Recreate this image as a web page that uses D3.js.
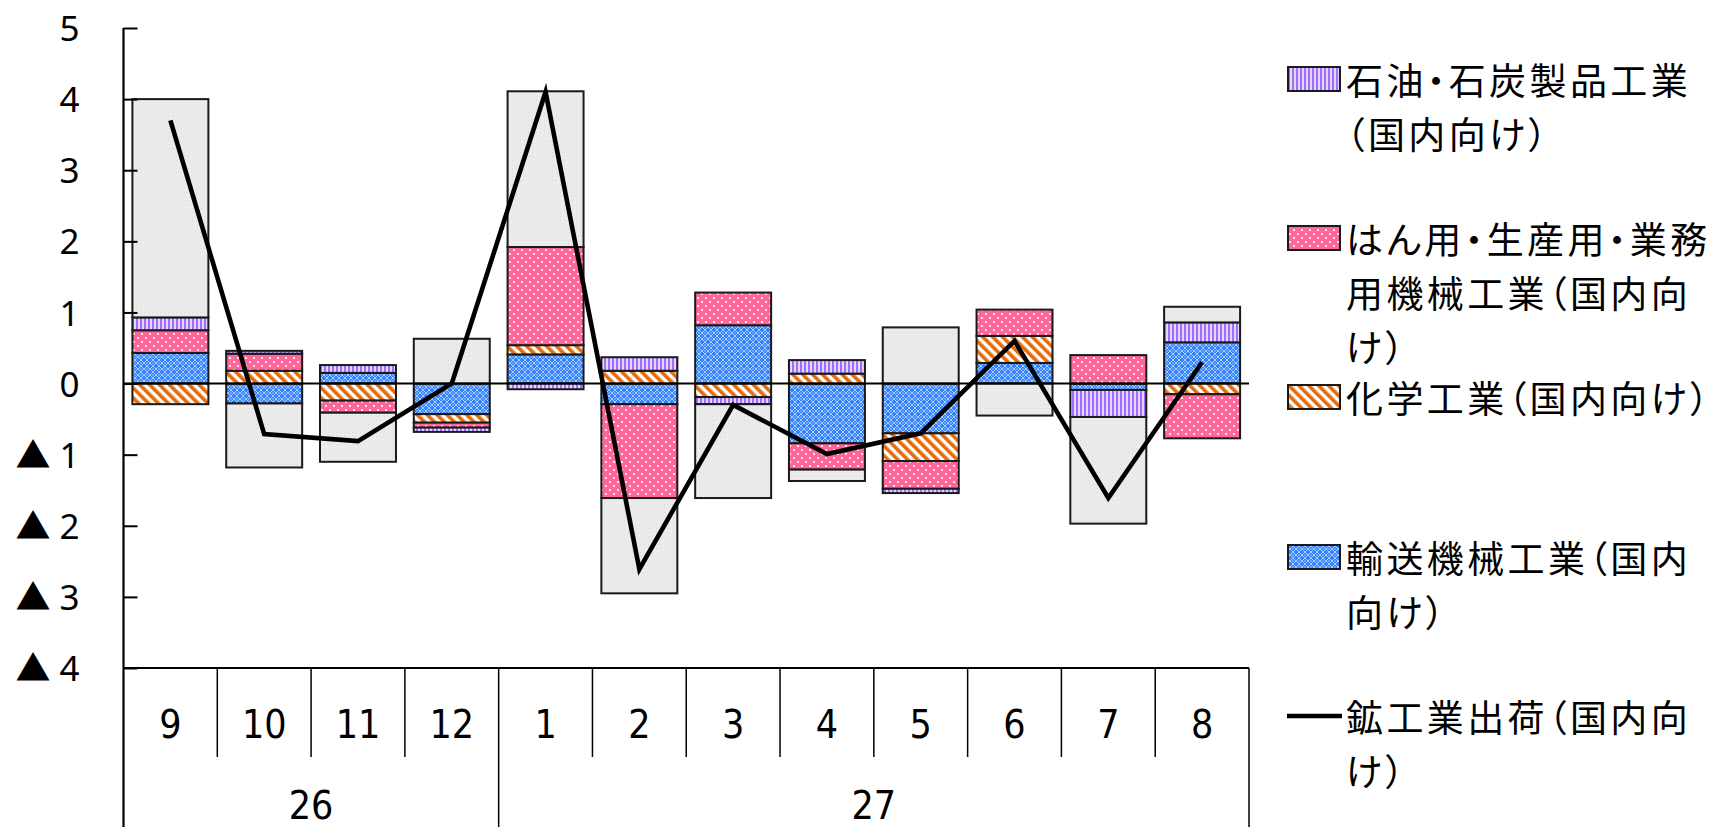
<!DOCTYPE html>
<html>
<head>
<meta charset="utf-8">
<script src="https://cdn.jsdelivr.net/npm/d3@7"></script>
<style>
  html, body { margin: 0; padding: 0; background: #ffffff; }
  svg { display: block; }
</style>
</head>
<body>
<svg id="chart" width="1729" height="827"></svg>
<script>
// Month labels and the year groups below them
const months = ["9", "10", "11", "12", "1", "2", "3", "4", "5", "6", "7", "8"];
const yearLabels = ["26", "27"];
const yearSpans = [4, 8];

// Contributions by industry (percentage points)
const transport = [0.43, -0.28, 0.15, -0.43, 0.41, -0.29, 0.82, -0.84, -0.70, 0.29, -0.09, 0.58];
const chemical  = [-0.29, 0.18, -0.24, -0.12, 0.13, 0.18, -0.19, 0.14, -0.39, 0.38, 0.00, -0.15];
const machinery = [0.32, 0.24, -0.17, -0.07, 1.38, -1.32, 0.46, -0.37, -0.39, 0.37, 0.40, -0.62];
const petroleum = [0.18, 0.04, 0.11, -0.06, -0.08, 0.19, -0.10, 0.19, -0.06, 0.00, -0.38, 0.28];
const other     = [3.07, -0.90, -0.69, 0.63, 2.19, -1.34, -1.32, -0.16, 0.79, -0.45, -1.50, 0.22];

// Total domestic shipments (% change)
const shipments = [3.7, -0.71, -0.81, 0.0, 4.1, -2.61, -0.30, -0.99, -0.70, 0.60, -1.61, 0.30];

// Y axis ticks
const yTicks = [-4, -3, -2, -1, 0, 1, 2, 3, 4, 5];

// Legend text, already broken into lines
const legendPetroleum = ["石油・石炭製品工業", "（国内向け）"];
const legendMachinery = ["はん用・生産用・業務", "用機械工業（国内向", "け）"];
const legendChemical  = ["化学工業（国内向け）"];
const legendTransport = ["輸送機械工業（国内", "向け）"];
const legendShipments = ["鉱工業出荷（国内向", "け）"];

const svg = d3.select("#chart");
const defs = svg.append("defs");

// ---- fill patterns ----
const pPet = defs.append("pattern").attr("id", "pat-petroleum")
  .attr("patternUnits", "userSpaceOnUse").attr("width", 4).attr("height", 4);
pPet.append("rect").attr("width", 4).attr("height", 4).attr("fill", "#E4D6FF");
pPet.append("rect").attr("width", 2).attr("height", 4).attr("fill", "#9F6EFF");

const pMach = defs.append("pattern").attr("id", "pat-machinery")
  .attr("patternUnits", "userSpaceOnUse").attr("width", 8).attr("height", 8);
pMach.append("rect").attr("width", 8).attr("height", 8).attr("fill", "#FF6699");
pMach.append("rect").attr("x", 1).attr("y", 1).attr("width", 2).attr("height", 2).attr("fill", "#FFE3EC");
pMach.append("rect").attr("x", 5).attr("y", 5).attr("width", 2).attr("height", 2).attr("fill", "#FFE3EC");

const pChem = defs.append("pattern").attr("id", "pat-chemical")
  .attr("patternUnits", "userSpaceOnUse").attr("width", 7).attr("height", 7)
  .attr("patternTransform", "rotate(-45)");
pChem.append("rect").attr("width", 7).attr("height", 7).attr("fill", "#ffffff");
pChem.append("rect").attr("width", 3.6).attr("height", 7).attr("fill", "#E46C0A");

const pTrans = defs.append("pattern").attr("id", "pat-transport")
  .attr("patternUnits", "userSpaceOnUse").attr("width", 6).attr("height", 6);
pTrans.append("rect").attr("width", 6).attr("height", 6).attr("fill", "#3383FF");
pTrans.append("path").attr("d", "M3 0 L6 3 L3 6 L0 3 Z")
  .attr("fill", "none").attr("stroke", "#B9D5FF").attr("stroke-width", 0.9);
pTrans.append("rect").attr("x", 2.5).attr("y", 2.5).attr("width", 1).attr("height", 1).attr("fill", "#ffffff");

const pOther = defs.append("pattern").attr("id", "pat-other")
  .attr("patternUnits", "userSpaceOnUse").attr("width", 4).attr("height", 4);
pOther.append("rect").attr("width", 4).attr("height", 4).attr("fill", "#EBEBEB");
pOther.append("rect").attr("width", 1).attr("height", 1).attr("fill", "#DCDCDC");

// ---- scales ----
const plotLeft = 123.5, plotRight = 1249, plotTop = 28, plotBottom = 668;
const x = d3.scaleBand().domain(d3.range(months.length)).range([plotLeft, plotRight]).padding(0);
const y = d3.scaleLinear().domain([-4, 5]).range([plotBottom, plotTop]);
const bw = x.bandwidth();
const barW = bw * 0.81;

// ---- stacked contributions ----
const keys = ["transport", "chemical", "machinery", "petroleum", "other"];
const seriesData = { transport, chemical, machinery, petroleum, other };
const rows = months.map((m, i) => {
  const r = { i };
  keys.forEach(k => r[k] = seriesData[k][i]);
  return r;
});
const stacked = d3.stack().keys(keys).offset(d3.stackOffsetDiverging)(rows);

const barLayer = svg.append("g");
stacked.forEach(s => {
  barLayer.append("g")
    .selectAll("rect")
    .data(s.filter(d => Math.abs(d[1] - d[0]) > 1e-9))
    .join("rect")
    .attr("x", d => x(d.data.i) + (bw - barW) / 2)
    .attr("width", barW)
    .attr("y", d => y(Math.max(d[0], d[1])))
    .attr("height", d => Math.abs(y(d[0]) - y(d[1])))
    .attr("fill", `url(#pat-${s.key})`)
    .attr("stroke", "#1a1a1a")
    .attr("stroke-width", 2);
});

// zero line
svg.append("line")
  .attr("x1", plotLeft).attr("x2", plotRight)
  .attr("y1", y(0)).attr("y2", y(0))
  .attr("stroke", "#000").attr("stroke-width", 2);

// ---- y axis ----
const yAxis = d3.axisLeft(y)
  .tickValues(yTicks)
  .tickSize(-14)
  .tickPadding(44)
  .tickFormat(v => v < 0 ? "▲ " + (-v) : String(v));
const gy = svg.append("g").attr("transform", `translate(${plotLeft},0)`).call(yAxis);
gy.select(".domain").remove();
gy.selectAll(".tick line").attr("stroke", "#000").attr("stroke-width", 2);
gy.selectAll(".tick text")
  .attr("fill", "#000")
  .attr("dy", "0.36em")
  .style("font-family", "'Noto Sans', 'Noto Sans CJK JP', sans-serif")
  .style("font-size", "35px");

// left border running from the top of the plot down through the category table
svg.append("line")
  .attr("x1", plotLeft).attr("x2", plotLeft)
  .attr("y1", plotTop).attr("y2", 827)
  .attr("stroke", "#000").attr("stroke-width", 2.2);

// ---- category axis (months) ----
const catFont = "'Liberation Sans Narrow', 'DejaVu Sans Condensed', 'Liberation Sans', sans-serif";
const xAxis = d3.axisBottom(x)
  .tickSize(0)
  .tickPadding(42)
  .tickFormat(i => months[i]);
const gx = svg.append("g").attr("transform", `translate(0,${plotBottom})`).call(xAxis);
gx.select(".domain").remove();
gx.selectAll(".tick text")
  .attr("fill", "#000")
  .style("font-family", catFont)
  .style("font-size", "39px");

svg.append("line")
  .attr("x1", plotLeft).attr("x2", plotRight)
  .attr("y1", plotBottom).attr("y2", plotBottom)
  .attr("stroke", "#000").attr("stroke-width", 2);

// year boundaries
const yearStarts = [];
let acc = 0;
yearSpans.forEach(n => { yearStarts.push(acc); acc += n; });
const yearBoundary = new Set(yearStarts.slice(1));

// dividers between months
const grid = svg.append("g").attr("stroke", "#000").attr("stroke-width", 1.5);
d3.range(1, months.length).forEach(i => {
  grid.append("line")
    .attr("x1", x(i)).attr("x2", x(i))
    .attr("y1", plotBottom)
    .attr("y2", yearBoundary.has(i) ? 827 : 757);
});
grid.append("line")
  .attr("x1", plotRight).attr("x2", plotRight)
  .attr("y1", plotBottom).attr("y2", 827);

// year labels
svg.append("g").selectAll("text")
  .data(yearLabels)
  .join("text")
  .attr("x", (d, k) => (x(yearStarts[k]) + x(yearStarts[k] + yearSpans[k] - 1) + bw) / 2)
  .attr("y", 819)
  .attr("text-anchor", "middle")
  .attr("fill", "#000")
  .style("font-family", catFont)
  .style("font-size", "39px")
  .text(d => d);

// ---- total shipments line ----
const line = d3.line()
  .x((d, i) => x(i) + bw / 2)
  .y(d => y(d));
svg.append("path")
  .datum(shipments)
  .attr("d", line)
  .attr("fill", "none")
  .attr("stroke", "#000")
  .attr("stroke-width", 4.6)
  .attr("stroke-linejoin", "miter")
  .attr("stroke-miterlimit", 10);

// ---- legend ----
const legendItems = [
  { key: "petroleum", lines: legendPetroleum, cy: 79 },
  { key: "machinery", lines: legendMachinery, cy: 238 },
  { key: "chemical",  lines: legendChemical,  cy: 397 },
  { key: "transport", lines: legendTransport, cy: 557 },
  { key: "line",      lines: legendShipments, cy: 716 }
];
const lineGap = 54;
const legend = svg.append("g");
legendItems.forEach(item => {
  if (item.key === "line") {
    legend.append("line")
      .attr("x1", 1287).attr("x2", 1342)
      .attr("y1", item.cy).attr("y2", item.cy)
      .attr("stroke", "#000").attr("stroke-width", 4.6);
  } else {
    legend.append("rect")
      .attr("x", 1288).attr("y", item.cy - 12)
      .attr("width", 52).attr("height", 24)
      .attr("fill", `url(#pat-${item.key})`)
      .attr("stroke", "#1a1a1a").attr("stroke-width", 2);
  }
  legend.append("g").selectAll("text")
    .data(item.lines)
    .join("text")
    .attr("x", 1346)
    .attr("y", (d, k) => item.cy + k * lineGap)
    .attr("dominant-baseline", "central")
    .attr("fill", "#000")
    .style("font-family", "'Noto Sans CJK JP', sans-serif")
    .style("font-size", "37px")
    .style("font-feature-settings", "'palt' 1")
    .style("letter-spacing", "3.4px")
    .text(d => d);
});
</script>
</body>
</html>
